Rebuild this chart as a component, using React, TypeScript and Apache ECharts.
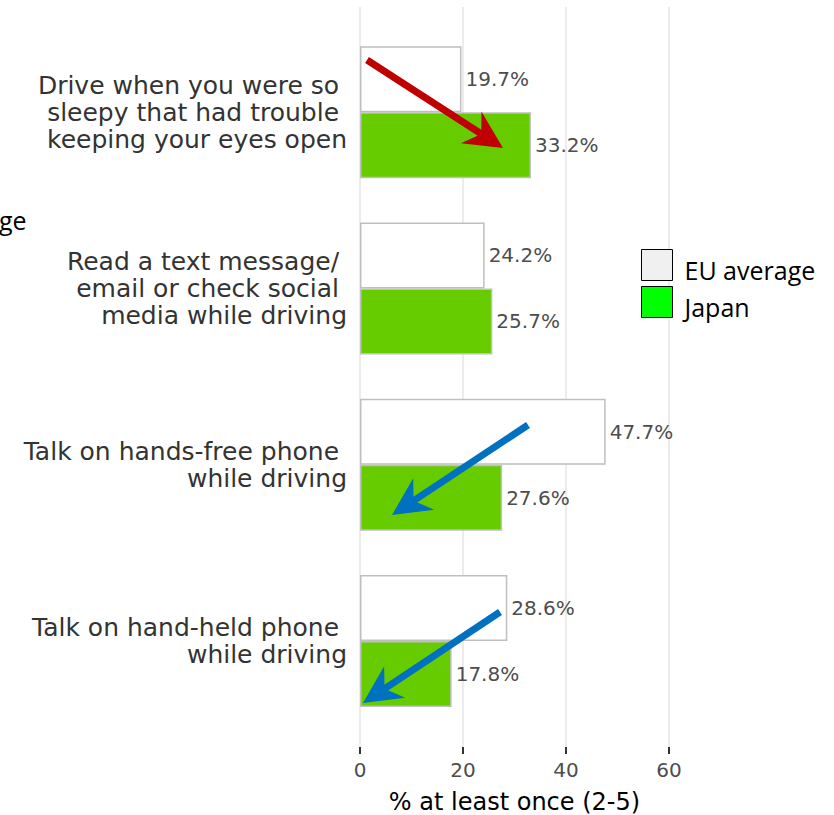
import React, { useEffect, useRef } from "react";
import * as echarts from "echarts";

// ---- data ----
const categories = [
  "Drive when you were so \nsleepy that had trouble \nkeeping your eyes open",
  "Read a text message/ \nemail or check social \nmedia while driving",
  "Talk on hands-free phone \nwhile driving",
  "Talk on hand-held phone \nwhile driving",
];
const seriesNames = ["EU average", "Japan"];
const euAverage = [19.7, 24.2, 47.7, 28.6];
const japan = [33.2, 25.7, 27.6, 17.8];
const xTickMax = 60;
const xTickStep = 20;
const xAxisTitle = "% at least once (2-5)";

// annotation arrows (tail -> tip), page pixels
const arrows = [
  { from: [367, 60], to: [503, 148], color: "#c00000" },
  { from: [528, 425], to: [392, 515], color: "#0070c0" },
  { from: [500, 612], to: [363, 703], color: "#0070c0" },
];

const FONT = "DejaVu Sans";

function arrowGraphics(a: { from: number[]; to: number[]; color: string }) {
  const [tx, ty] = a.from;
  const [px, py] = a.to;
  const dx = px - tx;
  const dy = py - ty;
  const len = Math.sqrt(dx * dx + dy * dy);
  const ux = dx / len;
  const uy = dy / len;
  const nx = -uy;
  const ny = ux;
  const headLen = 38;
  const half = 19;
  const notch = 0.68;
  const bx = px - ux * headLen;
  const by = py - uy * headLen;
  const nX = px - ux * headLen * notch;
  const nY = py - uy * headLen * notch;
  return [
    {
      type: "line",
      z: 100,
      shape: { x1: tx, y1: ty, x2: nX + ux * 2, y2: nY + uy * 2 },
      style: { stroke: a.color, lineWidth: 7 },
    },
    {
      type: "polygon",
      z: 101,
      shape: {
        points: [
          [px, py],
          [bx + nx * half, by + ny * half],
          [nX, nY],
          [bx - nx * half, by - ny * half],
        ],
      },
      style: { fill: a.color },
    },
  ];
}

export default function App() {
  const ref = useRef<HTMLDivElement>(null);
  useEffect(() => {
    if (!ref.current) return;
    const chart = echarts.init(ref.current, undefined, { renderer: "svg" });
    const barBorder = { borderColor: "#bfbfbf", borderWidth: 1.5 };
    const labelStyle = {
      show: true,
      position: "right",
      distance: 4,
      fontSize: 20,
      color: "#4d4d4d",
      fontFamily: FONT,
      formatter: (p: any) => `${Number(p.value).toFixed(1)}%`,
    };
    chart.setOption({
      animation: false,
      backgroundColor: "#ffffff",
      grid: [
        { left: 360, width: 309, top: 24, height: 705, containLabel: false, outerBoundsMode: "none" },
        { left: 360, width: 309, top: 7, height: 740, containLabel: false, outerBoundsMode: "none" },
      ],
      legend: {
        orient: "vertical",
        left: 641,
        top: 249,
        padding: 0,
        itemWidth: 31,
        itemHeight: 31,
        itemGap: 4,
        icon: "rect",
        formatter: "{t|{name}}",
        textStyle: {
          fontFamily: "Open Sans",
          fontSize: 25,
          color: "#000",
          rich: {
            t: { fontFamily: "Open Sans", fontSize: 25, color: "#000", padding: [9, 0, 0, 7] },
          },
        },
        data: [
          { name: seriesNames[0], itemStyle: { color: "#f0f0f0", borderColor: "#000", borderWidth: 1 } },
          { name: seriesNames[1], itemStyle: { color: "#00ff00", borderColor: "#000", borderWidth: 1 } },
        ],
      },
      xAxis: [
        { gridIndex: 0, type: "value", min: 0, max: xTickMax, show: false },
        {
          gridIndex: 1,
          type: "value",
          min: 0,
          max: xTickMax,
          interval: xTickStep,
          axisLine: { show: false },
          axisTick: { show: true, length: 7, lineStyle: { color: "#333", width: 2 } },
          splitLine: { show: true, lineStyle: { color: "#e6e6e6", width: 1.5 } },
          axisLabel: { fontSize: 20, color: "#4d4d4d", fontFamily: FONT, margin: 13 },
          name: xAxisTitle,
          nameLocation: "middle",
          nameGap: 43,
          nameTextStyle: { fontSize: 24, color: "#000", fontFamily: FONT },
        },
      ],
      yAxis: [
        {
          gridIndex: 0,
          type: "category",
          inverse: true,
          data: categories,
          axisLine: { show: false },
          axisTick: { show: false },
          splitLine: { show: false },
          axisLabel: {
            fontSize: 25,
            lineHeight: 27,
            color: "#333",
            fontFamily: FONT,
            margin: 13,
            align: "right",
          },
        },
        { gridIndex: 1, type: "value", show: false },
      ],
      series: [
        {
          name: seriesNames[0],
          type: "bar",
          xAxisIndex: 0,
          yAxisIndex: 0,
          data: euAverage,
          barWidth: 66,
          barGap: "0%",
          itemStyle: { color: "#ffffff", ...barBorder },
          label: labelStyle,
        },
        {
          name: seriesNames[1],
          type: "bar",
          xAxisIndex: 0,
          yAxisIndex: 0,
          data: japan,
          barWidth: 66,
          barGap: "0%",
          itemStyle: { color: "#66cc00", ...barBorder },
          label: labelStyle,
        },
      ],
      graphic: [
        {
          type: "text",
          left: -1,
          top: 207,
          style: { text: "ge", fontFamily: "Open Sans", fontSize: 25, fill: "#000" },
        },
        ...arrows.flatMap(arrowGraphics),
      ],
    });
    return () => chart.dispose();
  }, []);
  return (
    <div
      ref={ref}
      style={{ position: "absolute", left: 0, top: 0, width: 834, height: 815 }}
    />
  );
}
